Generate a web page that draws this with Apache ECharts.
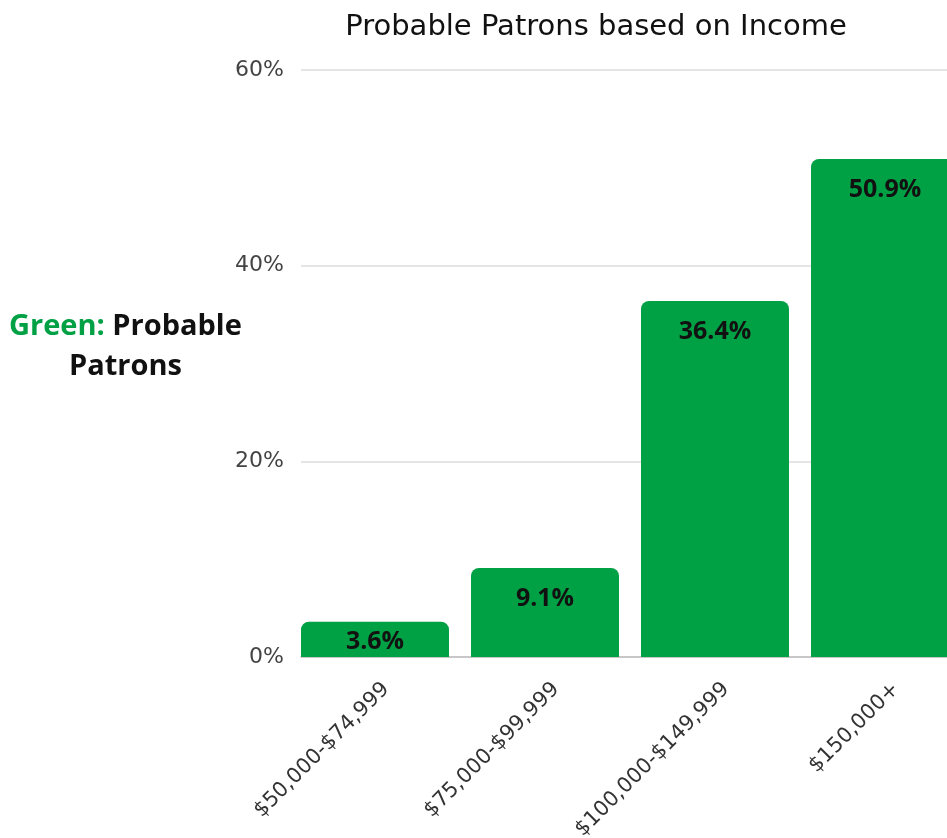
<!DOCTYPE html>
<html>
<head>
<meta charset="utf-8">
<title>Probable Patrons based on Income</title>
<script src="https://cdn.jsdelivr.net/npm/echarts@6/dist/echarts.min.js"></script>
<style>
  html, body { margin: 0; padding: 0; background: #ffffff; }
  #chart { width: 947px; height: 838px; }
</style>
</head>
<body>
<div id="chart"></div>
<script>
// Income brackets and share of probable patrons (%)
const categories = ['$50,000-$74,999', '$75,000-$99,999', '$100,000-$149,999', '$150,000+'];
const patronShare = [3.6, 9.1, 36.4, 50.9];
const yTicks = [0, 20, 40, 60];

const GREEN = '#00a044';

const chart = echarts.init(document.getElementById('chart'), null, { renderer: 'canvas' });

const option = {
  backgroundColor: '#ffffff',
  animation: false,
  title: {
    text: 'Probable Patrons based on Income',
    left: 591,
    textAlign: 'center',
    top: 8,
    textStyle: { fontFamily: 'DejaVu Sans', fontWeight: 'normal', fontSize: 29, color: '#111' }
  },
  // the last band runs past the right edge of the canvas
  grid: { left: 301, width: 680, top: 70, bottom: 181, containLabel: false, outerBoundsMode: 'none' },
  xAxis: {
    type: 'category',
    data: categories,
    boundaryGap: true,
    axisLine: { show: true, lineStyle: { color: '#bdbdbd', width: 1.5 } },
    axisTick: { show: false },
    axisLabel: {
      rotate: 45,
      interval: 0,
      margin: 29,
      fontFamily: 'DejaVu Sans',
      fontSize: 21,
      color: '#333'
    }
  },
  yAxis: {
    type: 'value',
    min: yTicks[0],
    max: yTicks[yTicks.length - 1],
    interval: 20,
    axisLine: { show: false },
    axisTick: { show: false },
    splitLine: { lineStyle: { color: '#dddddd', width: 1.5 } },
    axisLabel: {
      margin: 17,
      fontFamily: 'DejaVu Sans',
      fontSize: 22,
      color: '#444',
      formatter: v => v + '%'
    }
  },
  graphic: [{
    type: 'text',
    left: 9,
    top: 312,
    style: {
      text: '{g|Green: }{b|Probable}\n{b|Patrons}',
      textAlign: 'center',
      rich: {
        g: { fontFamily: 'Open Sans', fontWeight: 'bold', fontSize: 29, fill: GREEN, lineHeight: 40 },
        b: { fontFamily: 'Open Sans', fontWeight: 'bold', fontSize: 29, fill: '#111', lineHeight: 40 }
      }
    }
  }],
  series: [
    {
      name: 'Probable Patrons',
      type: 'bar',
      barWidth: 148,
      barGap: '0%',
      data: patronShare.map((v, i) => i === 0
        ? { value: v, label: { distance: 8 } }
        : { value: v }),
      itemStyle: { color: GREEN, borderRadius: [8, 8, 0, 0] },
      label: {
        show: true,
        position: 'insideTop',
        distance: 18,
        fontFamily: 'Open Sans',
        fontWeight: 'bold',
        fontSize: 25,
        color: '#111',
        formatter: p => p.value + '%'
      }
    },
    {
      // empty spacer that keeps each bar flush with its band's left edge
      name: 'spacer',
      type: 'bar',
      barWidth: 22,
      barGap: '0%',
      data: patronShare.map(() => null),
      itemStyle: { color: 'transparent' },
      silent: true
    }
  ]
};

chart.setOption(option);
</script>
</body>
</html>
